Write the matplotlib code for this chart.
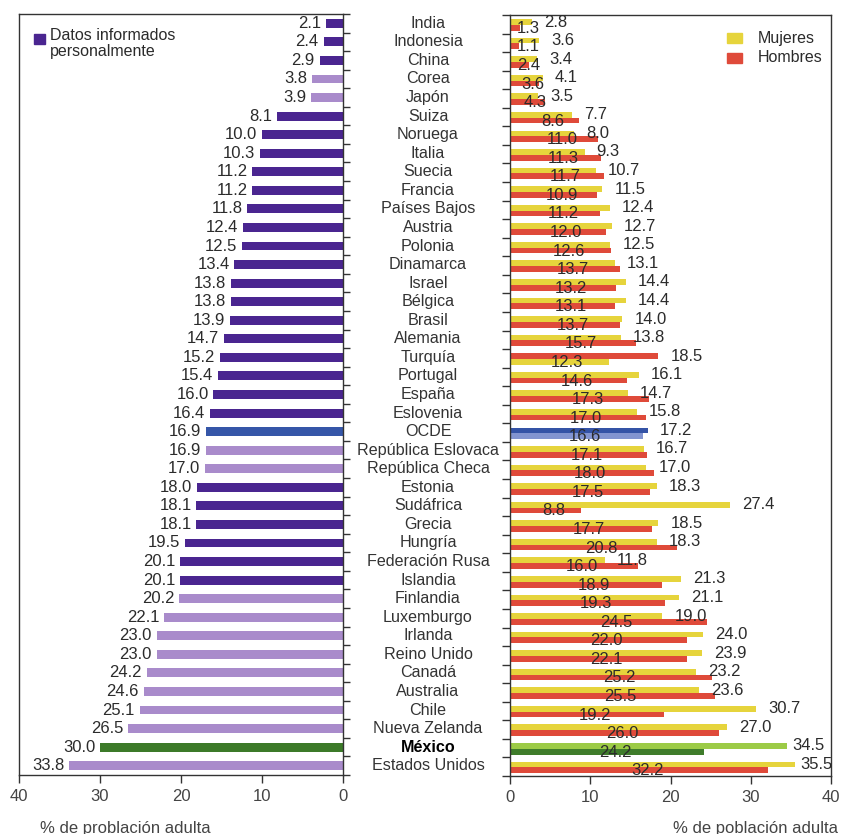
import matplotlib.pyplot as plt
from matplotlib import transforms
from matplotlib.patches import Rectangle
import numpy as np

plt.rcParams['font.family'] = ['Liberation Sans', 'DejaVu Sans']

paises = ["India", "Indonesia", "China", "Corea", "Japón", "Suiza", "Noruega",
          "Italia", "Suecia", "Francia", "Países Bajos", "Austria", "Polonia",
          "Dinamarca", "Israel", "Bélgica", "Brasil", "Alemania", "Turquía",
          "Portugal", "España", "Eslovenia", "OCDE", "República Eslovaca",
          "República Checa", "Estonia", "Sudáfrica", "Grecia", "Hungría",
          "Federación Rusa", "Islandia", "Finlandia", "Luxemburgo", "Irlanda",
          "Reino Unido", "Canadá", "Australia", "Chile", "Nueva Zelanda",
          "México", "Estados Unidos"]

total = [2.1, 2.4, 2.9, 3.8, 3.9, 8.1, 10.0, 10.3, 11.2, 11.2, 11.8, 12.4, 12.5,
         13.4, 13.8, 13.8, 13.9, 14.7, 15.2, 15.4, 16.0, 16.4, 16.9, 16.9, 17.0,
         18.0, 18.1, 18.1, 19.5, 20.1, 20.1, 20.2, 22.1, 23.0, 23.0, 24.2, 24.6,
         25.1, 26.5, 30.0, 33.8]

mujeres = [2.8, 3.6, 3.4, 4.1, 3.5, 7.7, 8.0, 9.3, 10.7, 11.5, 12.4, 12.7, 12.5,
           13.1, 14.4, 14.4, 14.0, 13.8, 12.3, 16.1, 14.7, 15.8, 17.2, 16.7, 17.0,
           18.3, 27.4, 18.5, 18.3, 11.8, 21.3, 21.1, 19.0, 24.0, 23.9, 23.2, 23.6,
           30.7, 27.0, 34.5, 35.5]

hombres = [1.3, 1.1, 2.4, 3.6, 4.3, 8.6, 11.0, 11.3, 11.7, 10.9, 11.2, 12.0, 12.6,
           13.7, 13.2, 13.1, 13.7, 15.7, 18.5, 14.6, 17.3, 17.0, 16.6, 17.1, 18.0,
           17.5, 8.8, 17.7, 20.8, 16.0, 18.9, 19.3, 24.5, 22.0, 22.1, 25.2, 25.5,
           19.2, 26.0, 24.2, 32.2]

# paises sin datos informados personalmente (barra clara)
medidos = {"Corea", "Japón", "República Eslovaca", "República Checa", "Finlandia",
           "Luxemburgo", "Irlanda", "Reino Unido", "Canadá", "Australia", "Chile",
           "Nueva Zelanda", "Estados Unidos"}
# filas donde la barra de hombres va arriba
hombres_arriba = {"Turquía"}

MORADO = "#4a2590"
MORADO_CLARO = "#a98bcb"
AMARILLO = "#e6d43c"
ROJO = "#df4a3a"
TEXTO = "#2b2b2b"

n = len(paises)
y = np.arange(n)

col_total = []
arriba, abajo, col_arriba, col_abajo = [], [], [], []
for p, m, h in zip(paises, mujeres, hombres):
    if p == "OCDE":
        col_total.append("#3556a8")
        arriba.append(m); abajo.append(h)
        col_arriba.append("#3453a6"); col_abajo.append("#8294d0")
    elif p == "México":
        col_total.append("#3c7a29")
        arriba.append(m); abajo.append(h)
        col_arriba.append("#9ccb46"); col_abajo.append("#3f7c2b")
    else:
        col_total.append(MORADO_CLARO if p in medidos else MORADO)
        if p in hombres_arriba:
            arriba.append(h); abajo.append(m)
            col_arriba.append(ROJO); col_abajo.append(AMARILLO)
        else:
            arriba.append(m); abajo.append(h)
            col_arriba.append(AMARILLO); col_abajo.append(ROJO)

fig = plt.figure(figsize=(8.43, 8.34), dpi=100)
ax1 = fig.add_axes([19 / 843, 59 / 834, 324 / 843, 761 / 834])
ax2 = fig.add_axes([510 / 843, 58 / 834, 321 / 843, 761 / 834])

# panel izquierdo: total
ax1.barh(y, total, height=0.48, color=col_total)
for i, v in enumerate(total):
    ax1.text(v + 0.6, i, f"{v:.1f}", ha="right", va="center",
             fontsize=12, color=TEXTO)
ax1.set_xlim(40, 0)

# panel derecho: mujeres / hombres
ax2.barh(y - 0.12, arriba, height=0.31, color=col_arriba)
ax2.barh(y + 0.19, abajo, height=0.31, color=col_abajo)
for i, (a, b) in enumerate(zip(arriba, abajo)):
    xa = a + 1.5 if a < 33 else a + 0.7
    ax2.text(xa, i - 0.12, f"{a:.1f}", ha="left", va="center",
             fontsize=12, color=TEXTO)
    ax2.text(max(b / 2 + 1, 2.3), i + 0.22, f"{b:.1f}", ha="center",
             va="center", fontsize=12, color=TEXTO)
ax2.set_xlim(0, 40)

for ax in (ax1, ax2):
    ax.set_ylim(n - 0.5, -0.5)
    ax.set_yticks(np.arange(-0.5, n, 1.0))
    ax.set_yticklabels([])
    ax.set_xticks([0, 10, 20, 30, 40])
    ax.tick_params(axis="x", length=6, width=1, colors="#333333",
                   labelsize=12, labelcolor="#444444", pad=4)
    for s in ax.spines.values():
        s.set_color("#333333")
        s.set_linewidth(1)

ax1.yaxis.tick_right()
ax1.tick_params(axis="y", length=5, width=1, colors="#333333")
ax2.tick_params(axis="y", length=6, width=1, colors="#333333")

# nombres de los paises entre los dos paneles
trans = transforms.blended_transform_factory(fig.transFigure, ax1.transData)
for i, p in enumerate(paises):
    bold = p == "México"
    fig.text(428 / 843, i, p, transform=trans, ha="center", va="center",
             fontsize=11.6, color="black" if bold else "#333333",
             fontweight="bold" if bold else "normal")

# leyendas
ax1.add_patch(Rectangle((0.046, 0.961), 0.033, 0.013, transform=ax1.transAxes,
                        color=MORADO, clip_on=False))
ax1.text(0.096, 0.982, "Datos informados\npersonalmente", transform=ax1.transAxes,
         ha="left", va="top", fontsize=11.5, color=TEXTO, linespacing=1.1)

ax2.add_patch(Rectangle((0.676, 0.963), 0.047, 0.013, transform=ax2.transAxes,
                        color=AMARILLO, clip_on=False))
ax2.add_patch(Rectangle((0.676, 0.937), 0.047, 0.013, transform=ax2.transAxes,
                        color=ROJO, clip_on=False))
ax2.text(0.772, 0.9695, "Mujeres", transform=ax2.transAxes, ha="left",
         va="center", fontsize=11.5, color=TEXTO)
ax2.text(0.772, 0.9435, "Hombres", transform=ax2.transAxes, ha="left",
         va="center", fontsize=11.5, color=TEXTO)

fig.text(40 / 843, 1 - 828 / 834, "% de problación adulta", ha="left",
         va="center", fontsize=12, color="#444444")
fig.text(838 / 843, 1 - 828 / 834, "% de población adulta", ha="right",
         va="center", fontsize=12, color="#444444")

fig.savefig("out.png", dpi=100, facecolor="white")
